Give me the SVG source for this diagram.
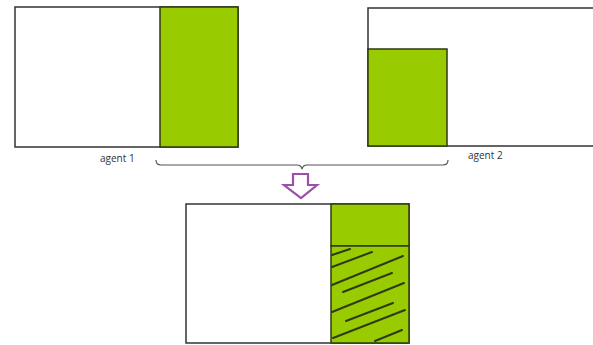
<svg xmlns="http://www.w3.org/2000/svg" width="593" height="345" viewBox="0 0 593 345">
<style>
.box{fill:#fff;stroke:#333;stroke-width:1.5}
.g{fill:#99cc00;stroke:#2e3a12;stroke-width:1.5}
.h{stroke:#2e3a12;stroke-width:2;stroke-linecap:round}
.t{font-family:"Open Sans","Liberation Sans",sans-serif;font-size:10px;fill:#333}
</style>
<rect width="593" height="345" fill="#fff"/>
<g id="agent1">
<rect class="box" x="15" y="7" width="223" height="140"/>
<rect class="g" x="160" y="7" width="78" height="140"/>
<text class="t" x="100" y="162">agent 1</text>
</g>
<g id="agent2">
<path class="box" d="M594,8 H368 V146 H594"/>
<rect class="g" x="368" y="49" width="79" height="97"/>
<text class="t" x="468" y="159">agent 2</text>
</g>
<g id="connectors">
<path d="M156,160 Q156,165 161,165 H297 Q301,165 302,169 Q303,165 307,165 H443 Q448,165 448,160" fill="none" stroke="#555" stroke-width="1.2"/>
<path d="M293,174 H308 V185 H317 L301,198 L284,185 H293 Z" fill="#fff" stroke="#9b4fa8" stroke-width="2.2" stroke-linejoin="miter"/>
</g>
<g id="result">
<rect class="box" x="186" y="204" width="223" height="139"/>
<rect class="g" x="331" y="204" width="78" height="42"/>
<rect class="g" x="331" y="246" width="78" height="97"/>
<g class="h">
<line x1="332" y1="255" x2="350" y2="249"/>
<line x1="332" y1="267" x2="372" y2="252"/>
<line x1="332" y1="285" x2="403" y2="256"/>
<line x1="343" y1="292" x2="392" y2="273"/>
<line x1="332" y1="312" x2="404" y2="283"/>
<line x1="346" y1="321" x2="393" y2="303"/>
<line x1="333" y1="338" x2="405" y2="310"/>
<line x1="375" y1="341" x2="402" y2="330"/>
</g>
</g>
</svg>
